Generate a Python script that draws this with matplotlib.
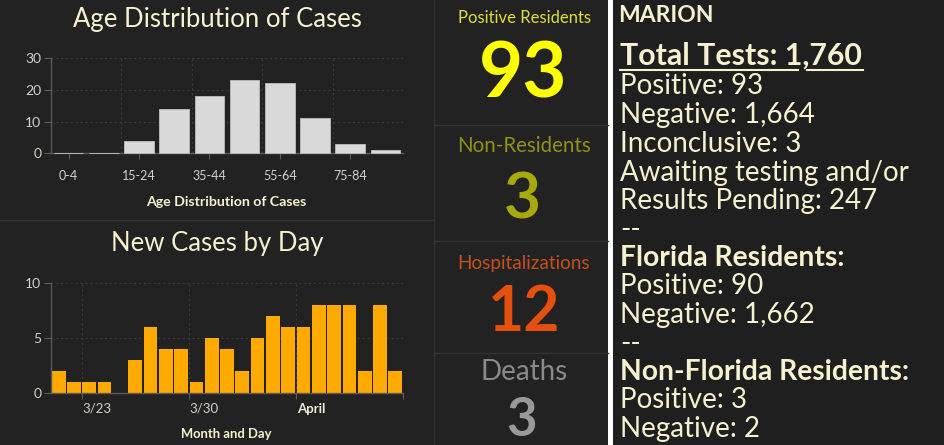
import matplotlib
matplotlib.use("Agg")
import matplotlib.pyplot as plt

W = 944
H = 445

age_labels = ["0-4", "", "15-24", "", "35-44", "", "55-64", "", "75-84", ""]
age_values = [0, 0, 4, 14, 18, 23, 22, 11, 3, 1]

day_values = [2, 1, 1, 1, 0, 3, 6, 4, 4, 1, 5, 4, 2, 5, 7, 6, 6, 8, 8, 8, 2, 8, 2]
day_ticks = [2, 9, 16, 23]
day_labels = ["3/23", "3/30", "April"]

stat_names = ["Positive Residents", "Non-Residents", "Hospitalizations", "Deaths"]
stat_values = ["93", "3", "12", "3"]

plt.rcParams["font.family"] = ["Lato", "DejaVu Sans"]

BG = "#222222"
CREAM = "#f6f1cf"
TICK = "#d2d2ca"
LINE = "#5a5a5a"
GRID = "#3c3c3c"


def px_axes(fig, left, top, right, bottom):
    # axes placed by pixel box, y counted from the top of the image
    return fig.add_axes([left / W, 1 - bottom / H, (right - left) / W, (bottom - top) / H])


def style_axes(ax):
    ax.set_facecolor("none")
    for side in ["top", "right"]:
        ax.spines[side].set_visible(False)
    for side in ["left", "bottom"]:
        ax.spines[side].set_color(LINE)
        ax.spines[side].set_linewidth(1)
    ax.tick_params(axis="y", colors=TICK, labelsize=10, length=5, width=0.8, pad=2, color=LINE)
    ax.set_axisbelow(True)


fig = plt.figure(figsize=(W / 100, H / 100), dpi=100, facecolor=BG)

# background layer in pixel coordinates for panels and free text
bg = fig.add_axes([0, 0, 1, 1])
bg.set_xlim(0, W)
bg.set_ylim(H, 0)
bg.axis("off")

bg.axvspan(608, 613, color="white", lw=0)
bg.axvspan(613, W, color="#1f1f1f", lw=0)
bg.plot([0, 434], [220, 220], color="#333333", lw=1)
bg.plot([434, 434], [0, H], color="#2e2e2e", lw=1)
for y in [125, 241, 353]:
    bg.plot([434, 608], [y, y], color="#333333", lw=1)

# age chart
bg.text(217, 20, "Age Distribution of Cases", color=CREAM, fontsize=18.5, ha="center", va="center")
ax1 = px_axes(fig, 51, 58, 403, 153.5)
style_axes(ax1)
ax1.bar(range(len(age_values)), age_values, width=0.84, color="#d9d9d9", edgecolor="#b5b5b5", linewidth=0.7, zorder=3)
ax1.set_xlim(-0.5, 9.5)
ax1.set_ylim(0, 30)
ax1.set_yticks([0, 10, 20, 30])
ax1.set_xticks(range(0, 10, 2))
ax1.set_xticklabels(age_labels[::2])
ax1.tick_params(axis="x", colors=TICK, labelsize=9, length=4, width=0.8, pad=8, color=LINE)
ax1.set_xticks([x - 0.5 for x in range(2, 11, 2)], minor=True)
ax1.tick_params(axis="x", which="minor", length=0)
ax1.grid(axis="y", color=GRID, linestyle=(0, (2, 3)), linewidth=0.7)
ax1.grid(axis="x", which="minor", color=GRID, linestyle=(0, (2, 3)), linewidth=0.7)
for bar in ax1.patches:
    bar.set_clip_on(False)
bg.text(226, 202, "Age Distribution of Cases", color=CREAM, fontsize=10.2, fontweight="bold", ha="center", va="center")

# daily chart
bg.text(217, 243, "New Cases by Day", color=CREAM, fontsize=18.5, ha="center", va="center")
ax2 = px_axes(fig, 51, 282.7, 403, 393)
style_axes(ax2)
ax2.bar(range(len(day_values)), day_values, width=0.9, color="#ffaa00", linewidth=0)
ax2.set_xlim(-0.5, len(day_values) - 0.5)
ax2.set_ylim(0, 10)
ax2.set_yticks([0, 5, 10])
ax2.set_xticks([t - 0.5 for t in day_ticks], minor=True)
ax2.tick_params(axis="x", which="minor", length=4, width=0.8, color=LINE)
ax2.set_xticks([t + 0.5 for t in day_ticks[:3]])
ax2.set_xticklabels(day_labels)
ax2.tick_params(axis="x", which="major", colors=TICK, labelsize=9.5, length=0, pad=7)
ax2.get_xticklabels()[2].set_fontweight("bold")
ax2.get_xticklabels()[2].set_color("#f0ecd8")
ax2.grid(axis="y", color=GRID, linestyle=(0, (2, 3)), linewidth=0.7)
ax2.grid(axis="x", which="minor", color=GRID, linestyle=(0, (2, 3)), linewidth=0.7)
bg.text(226, 434, "Month and Day", color=CREAM, fontsize=9.4, fontweight="bold", ha="center", va="center")

# big numbers
name_colors = ["#dede3c", "#8f9318", "#c4501e", "#8a8a8a"]
value_colors = ["#ffff00", "#a8aa0c", "#e6500f", "#999999"]
name_y = [18, 146, 263, 372]
value_y = [75, 200, 313, 420]
value_size = [55, 46, 45, 38]
name_size = [12, 14.8, 13.7, 20]
value_x = [523, 522, 524, 522]
for i in range(4):
    bg.text(524, name_y[i], stat_names[i], color=name_colors[i], fontsize=name_size[i], ha="center", va="center")
    bg.text(value_x[i], value_y[i], stat_values[i], color=value_colors[i], fontsize=value_size[i], fontweight="bold", ha="center", va="center")

# right hand text block
rows = [
    ("Positive: 93", 86, "normal"),
    ("Negative: 1,664", 115, "normal"),
    ("Inconclusive: 3", 144, "normal"),
    ("Awaiting testing and/or", 173, "normal"),
    ("Results Pending: 247", 201, "normal"),
    ("--", 230, "normal"),
    ("Florida Residents:", 258, "bold"),
    ("Positive: 90", 286, "normal"),
    ("Negative: 1,662", 315, "normal"),
    ("--", 344, "normal"),
    ("Non-Florida Residents:", 372, "bold"),
    ("Positive: 3", 400, "normal"),
    ("Negative: 2", 429, "normal"),
]
bg.text(618, 16, "MARION", color=CREAM, fontsize=16.5, fontweight="bold", ha="left", va="center")
bg.text(620, 56, "Total Tests: 1,760", color=CREAM, fontsize=21.8, fontweight="bold", ha="left", va="center")
bg.plot([620, 798], [70, 70], color=CREAM, lw=1.5)
bg.plot([807, 863], [70, 70], color=CREAM, lw=1.5)
for text, y, weight in rows:
    bg.text(620, y, text, color=CREAM, fontsize=20 if weight == "normal" else 20.3, fontweight=weight, ha="left", va="center")

bg.set_xlim(0, W)
bg.set_ylim(H, 0)
fig.savefig("out.png", dpi=100, facecolor=fig.get_facecolor())
